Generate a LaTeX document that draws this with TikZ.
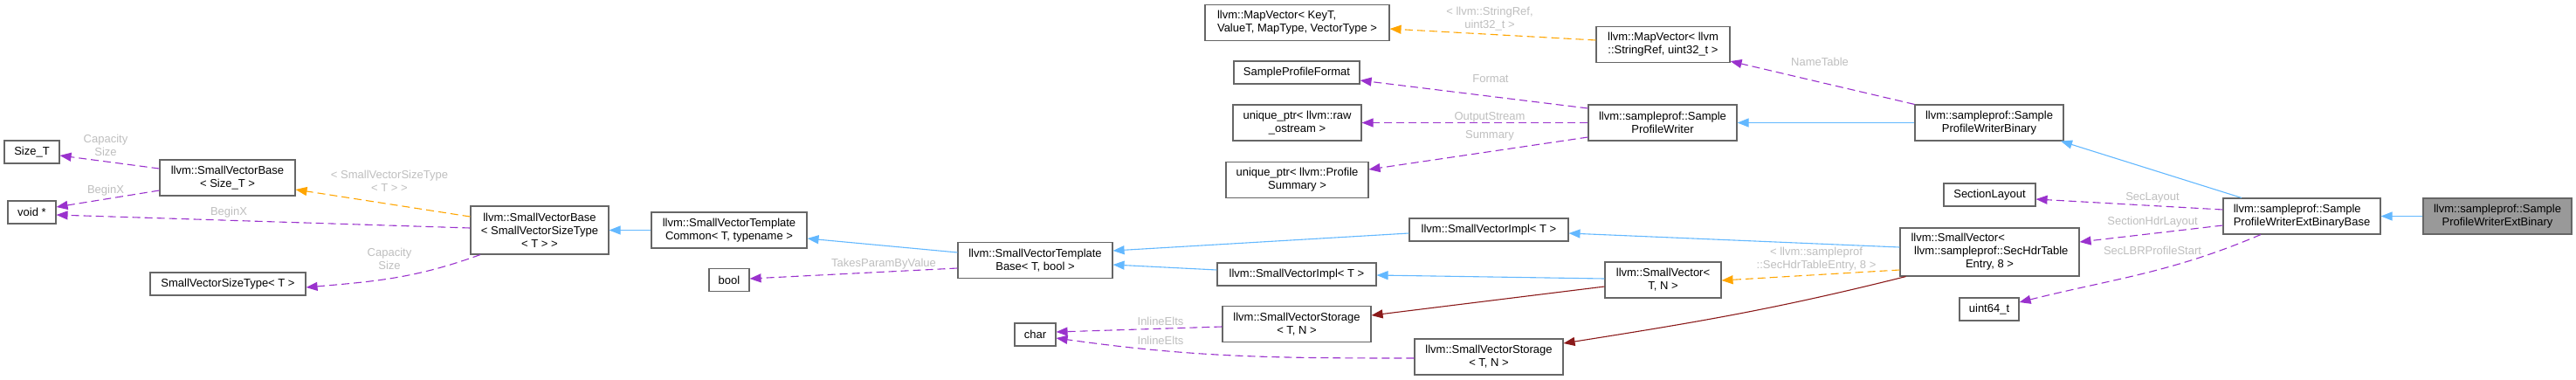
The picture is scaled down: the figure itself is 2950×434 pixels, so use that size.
\documentclass[tikz,border=0pt]{standalone}
\usepackage{fontspec}
\setmainfont{Liberation Sans}
\usetikzlibrary{arrows.meta}
\definecolor{edgeblue}{RGB}{99,184,255}
\definecolor{edgepurple}{RGB}{154,50,205}
\definecolor{edgeorange}{RGB}{255,165,0}
\definecolor{edgered}{RGB}{139,26,26}
\definecolor{boxborder}{RGB}{102,102,102}
\definecolor{mainfill}{RGB}{153,153,153}
\definecolor{labelgray}{RGB}{190,190,190}
\newcommand\bx[7][]{\node[box,#1,minimum width=#5pt,minimum height=#6pt] (#2) at (#3,#4) {#7};}
\begin{document}
\begin{tikzpicture}[x=1pt,y=-1pt,
  box/.style={draw=boxborder,line width=1.1pt,fill=white,inner sep=0pt,align=center,font=\fontsize{13}{15}\selectfont},
  lbl/.style={text=labelgray,inner sep=0pt,align=center,font=\fontsize{13}{15}\selectfont},
  tip/.style={-{Triangle[length=13pt,width=10pt]}},
  inh/.style={draw=edgeblue,line width=1.1pt,tip},
  priv/.style={draw=edgered,line width=1.1pt,tip},
  tmpl/.style={draw=edgeorange,line width=1.1pt,dash pattern=on 9pt off 5pt,tip},
  use/.style={draw=edgepurple,line width=1.1pt,dash pattern=on 9pt off 5pt,tip}]
\useasboundingbox (0,0) rectangle (2950,434);
% nodes
\bx{SizeT}{36.5}{174}{63}{26}{Size\_T}
\bx{voidp}{36.5}{243}{55}{26}{void *}
\bx{SVBaseSizeT}{260.5}{203.5}{155}{41}{llvm::SmallVectorBase\\< Size\_T >}
\bx{SVSizeType}{261}{325}{178}{26}{SmallVectorSizeType< T >}
\bx{SVBaseSVST}{618}{263.5}{158}{55}{llvm::SmallVectorBase\\< SmallVectorSizeType\\< T > >}
\bx{SVTCommon}{835}{263.5}{178}{41}{llvm::SmallVectorTemplate\\Common< T, typename >}
\bx{bool}{835}{320.5}{46}{26}{bool}
\bx{SVTBase}{1185.5}{298}{177}{41}{llvm::SmallVectorTemplate\\Base< T, bool >}
\bx{char}{1185.5}{383}{47}{26}{char}
\bx[align=left]{MapVecKeyT}{1485.5}{26}{211}{41}{llvm::MapVector< KeyT,\\ValueT, MapType, VectorType >}
\bx{SPFormat}{1485}{83}{144}{26}{SampleProfileFormat}
\bx{UPraw}{1485.5}{140.5}{147}{41}{unique\_ptr< llvm::raw\\\_ostream >}
\bx{UPsum}{1485.5}{206}{163}{41}{unique\_ptr< llvm::Profile\\Summary >}
\bx{SVImplLow}{1485}{314}{182}{26}{llvm::SmallVectorImpl< T >}
\bx{SVStorUp}{1485}{371}{170}{41}{llvm::SmallVectorStorage\\< T, N >}
\bx{SVImplUp}{1705}{263}{182}{26}{llvm::SmallVectorImpl< T >}
\bx{SVTN}{1904.5}{320.5}{133}{41}{llvm::SmallVector<\\T, N >}
\bx{SVStorLow}{1705}{408.5}{170}{41}{llvm::SmallVectorStorage\\< T, N >}
\bx{MapVecSR}{1904.5}{51}{153}{41}{llvm::MapVector< llvm\\::StringRef, uint32\_t >}
\bx{SPW}{1904}{140.5}{170}{41}{llvm::sampleprof::Sample\\ProfileWriter}
\bx{SPWB}{2278}{140.5}{170}{41}{llvm::sampleprof::Sample\\ProfileWriterBinary}
\bx{SecLayout}{2278.5}{223}{105}{26}{SectionLayout}
\bx{SVSecHdr}{2278.5}{288.5}{205}{55}{\begin{tabular}{@{}l@{}}llvm::SmallVector<\\\ llvm::sampleprof::SecHdrTable\\\multicolumn{1}{@{}c@{}}{Entry, 8 >}\end{tabular}}
\bx{uint64}{2278}{354}{68}{26}{uint64\_t}
\bx[align=left]{ExtBase}{2636}{247.5}{180}{41}{llvm::sampleprof::Sample\\ProfileWriterExtBinaryBase}
\bx[fill=mainfill]{Ext}{2860}{247.5}{170}{41}{llvm::sampleprof::Sample\\ProfileWriterExtBinary}
% inheritance (blue)
\draw[inh] (Ext.west) -- (ExtBase.east);
\draw[inh] ([xshift=-69pt]ExtBase.north) -- ([xshift=82pt]SPWB.south);
\draw[inh] (SPWB.west) -- (SPW.east);
\draw[inh] (SVTCommon.west) -- (SVBaseSVST.east);
\draw[inh] ([yshift=9pt]SVTBase.west) -- ([yshift=-9.5pt]SVTCommon.east);
\draw[inh] ([yshift=-4pt]SVImplUp.west) -- ([yshift=11pt]SVTBase.east);
\draw[inh] ([yshift=5pt]SVImplLow.west) -- ([yshift=-5pt]SVTBase.east);
\draw[inh] ([yshift=1.5pt]SVTN.west) -- ([yshift=-1pt]SVImplLow.east);
\draw[inh] ([yshift=5.5pt]SVSecHdr.west) -- ([yshift=-4pt]SVImplUp.east);
% private/protected inheritance (dark red)
\draw[priv] ([yshift=-7.5pt]SVTN.west) -- ([yshift=10pt]SVStorUp.east);
\draw[priv] ([xshift=-96pt]SVSecHdr.south) to[out=194,in=9] ([yshift=15.5pt]SVStorLow.east);
% template instances (orange)
\draw[tmpl] ([yshift=15.5pt]SVBaseSVST.west) -- ([yshift=-13.5pt]SVBaseSizeT.east);
\draw[tmpl] ([yshift=5pt]MapVecSR.west) -- ([yshift=-7pt]MapVecKeyT.east);
\draw[tmpl] ([yshift=-20.5pt]SVSecHdr.west) -- ([yshift=-0.5pt]SVTN.east);
% usage (purple)
\draw[use] ([yshift=10.5pt]SVBaseSizeT.west) -- ([yshift=-4pt]SizeT.east);
\draw[use] ([yshift=-14.5pt]SVBaseSizeT.west) -- ([yshift=6pt]voidp.east);
\draw[use] ([yshift=2.5pt]SVBaseSVST.west) -- ([yshift=-3pt]voidp.east);
\draw[use] ([xshift=-68pt]SVBaseSVST.south) to[out=200,in=5] ([yshift=-4pt]SVSizeType.east);
\draw[use] ([yshift=-9pt]SVTBase.west) -- ([yshift=1.5pt]bool.east);
\draw[use] ([yshift=-3pt]SVStorUp.west) -- ([yshift=3pt]char.east);
\draw[use] ([yshift=-1.5pt]SVStorLow.west) to[out=180,in=-8] ([yshift=-4pt]char.east);
\draw[use] ([yshift=16.5pt]SPW.west) -- ([yshift=-9pt]SPFormat.east);
\draw[use] (SPW.west) -- (UPraw.east);
\draw[use] ([yshift=-16.5pt]SPW.west) -- ([yshift=12pt]UPsum.east);
\draw[use] (SPWB.north west) -- ([yshift=2pt]MapVecSR.south east);
\draw[use] ([yshift=7.5pt]ExtBase.west) -- ([yshift=-5pt]SecLayout.east);
\draw[use] ([yshift=-10.5pt]ExtBase.west) -- ([yshift=11.5pt]SVSecHdr.east);
\draw[use] ([xshift=-47pt]ExtBase.south) to[out=203,in=14] ([yshift=8pt]uint64.east);
% edge labels
\node[lbl] (l1) at (121,166.5) {Capacity\\Size};
\node[lbl] (l2) at (121,218) {BeginX};
\node[lbl] (l3) at (262,243) {BeginX};
\node[lbl] (l4) at (446,207.5) {< SmallVectorSizeType\\< T > >};
\node[lbl] (l5) at (446,296.5) {Capacity\\Size};
\node[lbl] (l6) at (1012,302) {TakesParamByValue};
\node[lbl] (l7) at (1329,368) {InlineElts};
\node[lbl] (l8) at (1329,390) {InlineElts};
\node[lbl] (l9) at (1706,21.5) {< llvm::StringRef,\\uint32\_t >};
\node[lbl] (l10) at (1707,90) {Format};
\node[lbl] (l11) at (1706,134) {OutputStream};
\node[lbl] (l12) at (1706,155) {Summary};
\node[lbl] (l13) at (2084,71) {NameTable};
\node[lbl] (l14) at (2080,296.5) {< llvm::sampleprof\\::SecHdrTableEntry, 8 >};
\node[lbl] (l15) at (2465,226) {SecLayout};
\node[lbl] (l16) at (2465,254) {SectionHdrLayout};
\node[lbl] (l17) at (2465,287) {SecLBRProfileStart};
\end{tikzpicture}
\end{document}
